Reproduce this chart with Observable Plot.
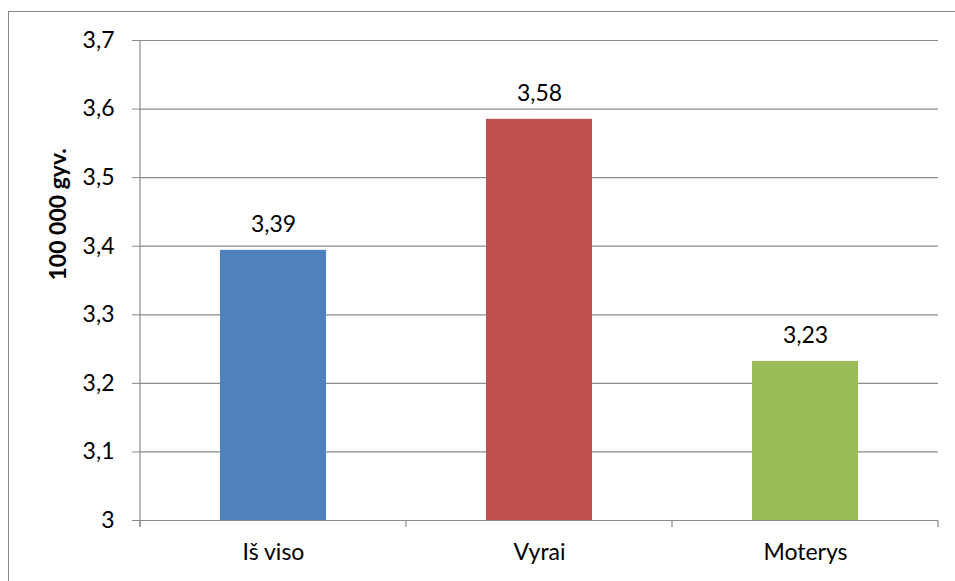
<!DOCTYPE html>
<html>
<head>
<meta charset="utf-8">
<script src="https://cdn.jsdelivr.net/npm/d3@7"></script>
<script src="https://cdn.jsdelivr.net/npm/@observablehq/plot@0.6"></script>
<style>
  html, body { margin: 0; padding: 0; background: #fff; }
  #wrap { position: relative; width: 955px; height: 581px; overflow: hidden; }
  #border { position: absolute; left: 8px; top: 11px; width: 1000px; height: 1000px;
            border-left: 1px solid #868686; border-top: 1px solid #868686; pointer-events: none; }
  #chart { position: absolute; left: 0; top: 0; }
</style>
</head>
<body>
<div id="wrap"><div id="chart"></div><div id="border"></div></div>
<script>
const categories = ["Iš viso", "Vyrai", "Moterys"];
const values = [3.394, 3.585, 3.232];
const labels = ["3,39", "3,58", "3,23"];
const colors = ["#4F81BD", "#C0504D", "#9BBB59"];
const yTicks = [3, 3.1, 3.2, 3.3, 3.4, 3.5, 3.6, 3.7];
const yTitle = "100 000 gyv.";

const data = categories.map((c, i) => ({cat: c, value: values[i], label: labels[i], color: colors[i]}));
const fmt = d => String(d).replace(".", ",");
const gridColor = "#8a8a8a";
const font = "Lato, sans-serif";
const fs = 23;

const chart = Plot.plot({
  width: 955,
  height: 581,
  marginLeft: 140,
  marginTop: 40,
  marginRight: 17,
  marginBottom: 61,
  style: {fontFamily: font, fontSize: fs + "px", color: "#000", background: "transparent"},
  x: {domain: categories, paddingInner: 0.6, paddingOuter: 0.3, label: null},
  y: {domain: [3, 3.7], label: null},
  marks: [
    Plot.ruleY(yTicks.slice(1), {stroke: gridColor, strokeWidth: 1.2}),
    Plot.barY(data, {x: "cat", y1: 3, y2: "value", fill: "color"}),
    Plot.text(data, {x: "cat", y: "value", text: "label", dy: -26, fontSize: fs, fill: "#000"}),
    Plot.axisY(yTicks, {tickFormat: fmt, tickSize: 8, tickPadding: 18, stroke: gridColor, fontSize: fs, fill: "#000"}),
    Plot.axisX({tickSize: 0, tickPadding: 23, fontSize: fs, fill: "#000"}),
    Plot.ruleY([3], {stroke: gridColor, strokeWidth: 1.2}),
    Plot.text([0], {frameAnchor: "left", dx: -82, rotate: -90, text: () => yTitle, fontWeight: "bold", fontSize: fs, fill: "#000"})
  ]
});

// y-axis line and x category boundary ticks positioned with the chart's own scales
const xs = chart.scale("x");
const ys = chart.scale("y");
const step = xs.step;
const left = xs.range[0];
const boundaries = d3.range(categories.length + 1).map(i => left + i * step);
const svg = d3.select(chart);
const g = svg.append("g").attr("stroke", gridColor).attr("stroke-width", 1.2);
g.append("line").attr("x1", left).attr("x2", left).attr("y1", ys.apply(3.7)).attr("y2", ys.apply(3) + 7);
boundaries.forEach(b => g.append("line").attr("x1", b).attr("x2", b).attr("y1", ys.apply(3)).attr("y2", ys.apply(3) + 7));

document.getElementById("chart").appendChild(chart);
</script>
</body>
</html>
